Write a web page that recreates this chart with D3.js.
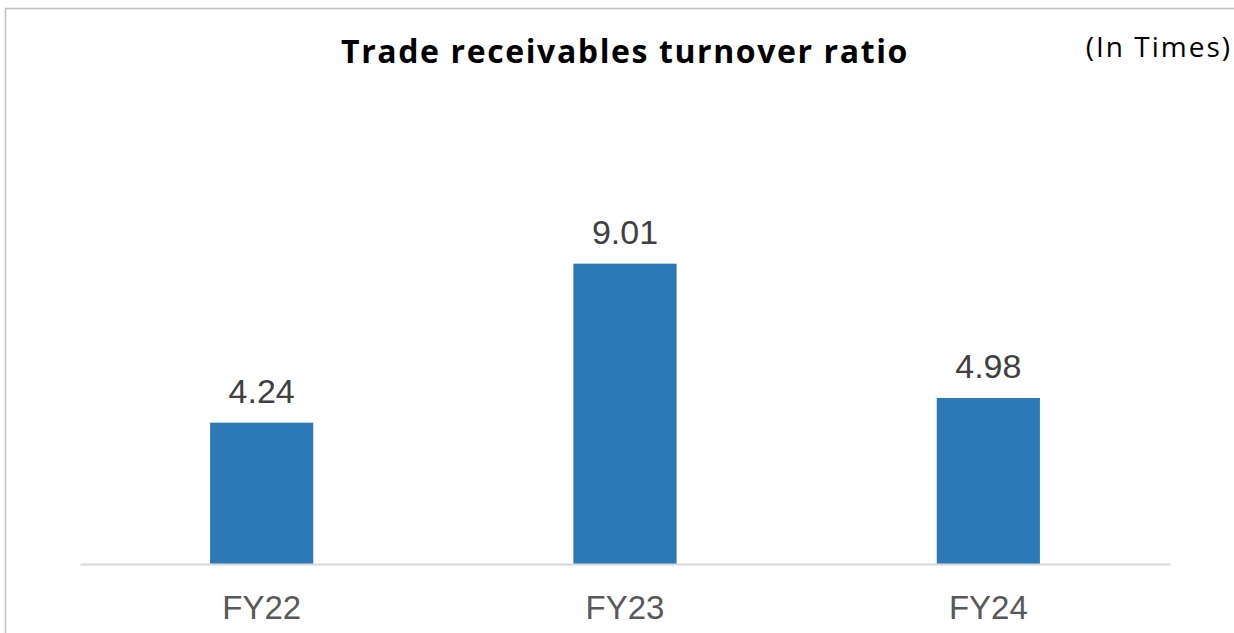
<!DOCTYPE html>
<html>
<head>
<meta charset="utf-8">
<script src="https://cdn.jsdelivr.net/npm/d3@7"></script>
<style>
  body { margin: 0; background: #fff; }
</style>
</head>
<body>
<div class="chart"></div>
<script>
// Data
var categories = ["FY22", "FY23", "FY24"];
var values = [4.24, 9.01, 4.98];
var title = "Trade receivables turnover ratio";
var unitLabel = "(In Times)";

// Configuration
var width = 1234;
var height = 633;

var svg = d3.select(".chart").append("svg")
    .attr("width", width)
    .attr("height", height);

// chart frame (right and bottom edges run off the picture)
svg.append("rect")
    .attr("x", 5.5)
    .attr("y", 8.5)
    .attr("width", 1240)
    .attr("height", 640)
    .attr("fill", "none")
    .attr("stroke", "#bfbfbf")
    .attr("stroke-width", 1.5);

// scales
var x = d3.scaleBand()
    .domain(categories)
    .range([80, 1170])
    .paddingInner(0.716)
    .paddingOuter(0.358);

var y = d3.scaleLinear()
    .domain([0, 12])
    .range([564, 164]);

// bars
svg.selectAll("rect.bar")
    .data(values)
    .enter().append("rect")
    .attr("class", "bar")
    .attr("x", function(d, i) { return x(categories[i]); })
    .attr("y", function(d) { return y(d); })
    .attr("width", x.bandwidth())
    .attr("height", function(d) { return y(0) - y(d); })
    .attr("fill", "#2c79b6");

// value labels
svg.selectAll("text.value")
    .data(values)
    .enter().append("text")
    .attr("class", "value")
    .attr("x", function(d, i) { return x(categories[i]) + x.bandwidth() / 2; })
    .attr("y", function(d) { return y(d) - 20; })
    .attr("text-anchor", "middle")
    .style("font-family", "'Liberation Sans', Arial, sans-serif")
    .style("font-size", "34px")
    .style("fill", "#404040")
    .text(function(d) { return d.toFixed(2); });

// x axis
var xAxis = svg.append("g")
    .attr("transform", "translate(0," + y(0) + ")")
    .call(d3.axisBottom(x).tickSize(0).tickPadding(32));

xAxis.select(".domain")
    .attr("stroke", "#d9d9d9")
    .attr("stroke-width", 2);

xAxis.selectAll("text")
    .style("font-family", "'Liberation Sans', Arial, sans-serif")
    .style("font-size", "33px")
    .style("fill", "#595959")
    .attr("dy", "0.71em");

// title
svg.append("text")
    .attr("x", 625)
    .attr("y", 63)
    .attr("text-anchor", "middle")
    .style("font-family", "'Open Sans', sans-serif")
    .style("font-weight", "bold")
    .style("font-size", "32px")
    .style("letter-spacing", "1.6px")
    .style("fill", "#000")
    .text(title);

// unit note
svg.append("text")
    .attr("x", 1232)
    .attr("y", 57)
    .attr("text-anchor", "end")
    .style("font-family", "'Open Sans', sans-serif")
    .style("font-size", "28px")
    .style("letter-spacing", "2px")
    .style("fill", "#000")
    .text(unitLabel);
</script>
</body>
</html>
